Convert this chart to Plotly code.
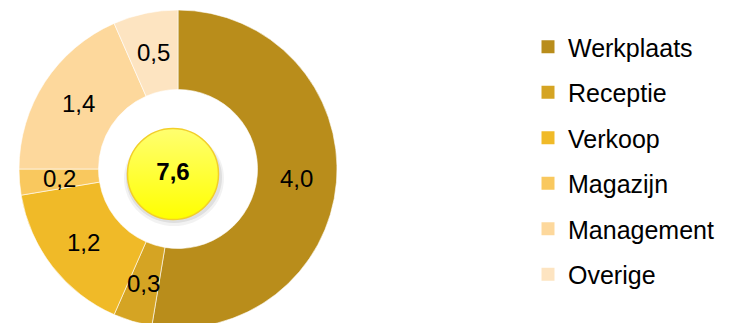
import math
import plotly.graph_objects as go

categories = ["Werkplaats", "Receptie", "Verkoop", "Magazijn", "Management", "Overige"]
values = [4.0, 0.3, 1.2, 0.2, 1.4, 0.5]
colors = ["#B98D1B", "#D5A423", "#F0BA28", "#F9C85E", "#FDD89C", "#FDE4C1"]

W, H = 733, 333
FONT = "Liberation Sans, Arial, sans-serif"

# pie geometry in pixels
CX, CY, R_OUT, HOLE = 178, 169, 159, 0.5


def fmt(v):
    return f"{v:.1f}".replace(".", ",")


total = sum(values)

fig = go.Figure()

# donut
fig.add_trace(go.Pie(
    labels=categories,
    values=values,
    textinfo="none",
    marker=dict(colors=colors, line=dict(color="#FFFFFF", width=0.6)),
    hole=HOLE,
    sort=False,
    direction="clockwise",
    rotation=0,
    showlegend=False,
    domain=dict(x=[(CX - R_OUT) / W, (CX + R_OUT) / W],
                y=[1 - (CY + R_OUT) / H, 1 - (CY - R_OUT) / H]),
    hoverinfo="label+value",
))

# slice value labels at mid-ring, mid-angle of each slice
r_mid = R_OUT * (1 + HOLE) / 2
cum = 0.0
for v in values:
    ang = 2 * math.pi * (cum + v / 2) / total
    cum += v
    fig.add_annotation(
        x=CX + r_mid * math.sin(ang), y=CY - r_mid * math.cos(ang),
        xref="x", yref="y", text=fmt(v), showarrow=False,
        font=dict(family=FONT, size=24, color="#000000"),
    )

# legend entries
for c, col in zip(categories, colors):
    fig.add_trace(go.Scatter(
        x=[None], y=[None], mode="markers", name=c, legendgroup=c,
        marker=dict(symbol="square", size=13, color=col),
    ))

# center total bubble
fig.add_trace(go.Scatter(
    x=[173], y=[174], mode="markers+text",
    text=[fmt(total)], textposition="middle center",
    textfont=dict(family=FONT, size=24, color="#000000", weight="bold"),
    marker=dict(size=91, color="#FFFF70",
                gradient=dict(type="vertical", color="#FFFF00"),
                line=dict(color="#F2CF2A", width=1.5)),
    showlegend=False, hoverinfo="skip",
))

fig.add_shape(type="circle", xref="x", yref="y", x0=124, x1=224, y0=131, y1=226,
              fillcolor="rgba(0,0,0,0.05)", line=dict(width=0), layer="below")
fig.add_shape(type="circle", xref="x", yref="y", x0=126, x1=222, y0=132, y1=223,
              fillcolor="rgba(0,0,0,0.08)", line=dict(width=0), layer="below")

fig.update_layout(
    width=W, height=H,
    margin=dict(l=0, r=0, t=0, b=0),
    paper_bgcolor="#FFFFFF", plot_bgcolor="rgba(0,0,0,0)",
    xaxis=dict(range=[0, W], domain=[0, 1], visible=False, fixedrange=True),
    yaxis=dict(range=[H, 0], domain=[0, 1], visible=False, fixedrange=True),
    legend=dict(
        x=528 / W, xanchor="left", y=1 - 24 / H, yanchor="top",
        font=dict(family=FONT, size=25, color="#000000"),
        bgcolor="rgba(0,0,0,0)", tracegroupgap=10,
        traceorder="grouped",
    ),
)

fig.write_html("out.html")
